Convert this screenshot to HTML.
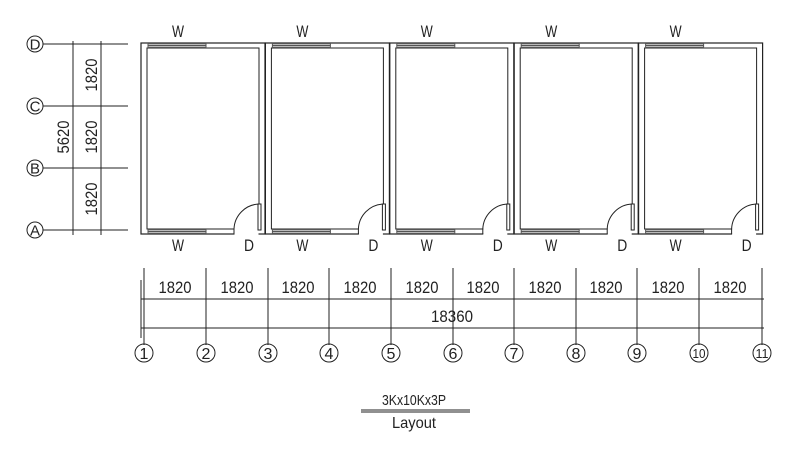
<!DOCTYPE html>
<html><head><style>body{margin:0;background:#fff}svg{display:block}text{font-family:"Liberation Sans",sans-serif;fill:#222}</style></head><body>
<svg width="800" height="458" viewBox="0 0 800 458" xmlns="http://www.w3.org/2000/svg" fill="none" stroke="#222" stroke-width="1">
<g id="units">
<g id="u">
<rect x="141" y="43" width="124" height="191" stroke-width="1.2"/>
<rect x="147" y="48" width="112" height="181"/>
<rect x="148" y="43.5" width="58" height="4" fill="#bbb" stroke="#555"/>
<line x1="148" y1="45.5" x2="206" y2="45.5" stroke="#555"/>
<rect x="148" y="229.5" width="58" height="4" fill="#bbb" stroke="#555"/>
<line x1="148" y1="231.5" x2="206" y2="231.5" stroke="#555"/>
<rect x="234.5" y="228" width="24" height="7" fill="#fff" stroke="none"/>
<line x1="234" y1="229" x2="234" y2="234"/>
<rect x="258" y="204" width="3" height="26" fill="#fff"/>
<path d="M234 229 A26 26 0 0 1 259 204"/>
<text x="178" y="37" font-size="17" text-anchor="middle" stroke="none" textLength="12" lengthAdjust="spacingAndGlyphs">W</text>
<text x="178" y="251" font-size="17" text-anchor="middle" stroke="none" textLength="12" lengthAdjust="spacingAndGlyphs">W</text>
<text x="249" y="251" font-size="17" text-anchor="middle" stroke="none" textLength="10" lengthAdjust="spacingAndGlyphs">D</text>
</g>
<use href="#u" x="124.4"/>
<use href="#u" x="248.8"/>
<use href="#u" x="373.2"/>
<use href="#u" x="497.6"/>
</g>
<g>
<line x1="73" y1="41" x2="73" y2="235"/>
<line x1="101" y1="41" x2="101" y2="235"/>
<line x1="43" y1="44" x2="128" y2="44"/>
<line x1="43" y1="106" x2="128" y2="106"/>
<line x1="43" y1="168" x2="128" y2="168"/>
<line x1="43" y1="230" x2="128" y2="230"/>
<circle cx="35" cy="44" r="8"/><circle cx="35" cy="106" r="8"/><circle cx="35" cy="168" r="8"/><circle cx="35" cy="230" r="8"/>
<g font-size="15" stroke="none" text-anchor="middle">
<text x="35" y="49.5" font-family="Liberation Serif">D</text>
<text x="35" y="111.5" font-family="Liberation Serif">C</text>
<text x="35" y="173.5" font-family="Liberation Serif">B</text>
<text x="35" y="235.5" font-family="Liberation Serif">A</text>
<text transform="translate(97,75) rotate(-90)" font-size="17" textLength="33" lengthAdjust="spacingAndGlyphs">1820</text>
<text transform="translate(97,137) rotate(-90)" font-size="17" textLength="33" lengthAdjust="spacingAndGlyphs">1820</text>
<text transform="translate(97,199) rotate(-90)" font-size="17" textLength="33" lengthAdjust="spacingAndGlyphs">1820</text>
<text transform="translate(69,137) rotate(-90)" font-size="17" textLength="33" lengthAdjust="spacingAndGlyphs">5620</text>
</g>
</g>
<g>
<line x1="141" y1="299" x2="764" y2="299"/>
<line x1="141" y1="328" x2="764" y2="328"/>
<line x1="141" y1="280" x2="141" y2="338"/>
<g id="gl"><line x1="144" y1="268" x2="144" y2="345"/></g>
<use href="#gl" x="62"/><use href="#gl" x="124"/><use href="#gl" x="185"/><use href="#gl" x="247"/><use href="#gl" x="309"/><use href="#gl" x="370"/><use href="#gl" x="432"/><use href="#gl" x="493"/><use href="#gl" x="555"/><use href="#gl" x="618"/>
<g stroke="none" font-size="17" text-anchor="middle" lengthAdjust="spacingAndGlyphs">
<text x="175" y="293" textLength="33" lengthAdjust="spacingAndGlyphs">1820</text><text x="237" y="293" textLength="33" lengthAdjust="spacingAndGlyphs">1820</text><text x="298" y="293" textLength="33" lengthAdjust="spacingAndGlyphs">1820</text><text x="360" y="293" textLength="33" lengthAdjust="spacingAndGlyphs">1820</text><text x="422" y="293" textLength="33" lengthAdjust="spacingAndGlyphs">1820</text><text x="483" y="293" textLength="33" lengthAdjust="spacingAndGlyphs">1820</text><text x="545" y="293" textLength="33" lengthAdjust="spacingAndGlyphs">1820</text><text x="606" y="293" textLength="33" lengthAdjust="spacingAndGlyphs">1820</text><text x="668" y="293" textLength="33" lengthAdjust="spacingAndGlyphs">1820</text><text x="730" y="293" textLength="33" lengthAdjust="spacingAndGlyphs">1820</text>
<text x="452" y="322" textLength="42" lengthAdjust="spacingAndGlyphs">18360</text>
</g>
<g>
<circle cx="144" cy="353" r="9"/><circle cx="206" cy="353" r="9"/><circle cx="268" cy="353" r="9"/><circle cx="329" cy="353" r="9"/><circle cx="391" cy="353" r="9"/><circle cx="453" cy="353" r="9"/><circle cx="514" cy="353" r="9"/><circle cx="576" cy="353" r="9"/><circle cx="637" cy="353" r="9"/><circle cx="699" cy="353" r="9"/><circle cx="762" cy="353" r="9"/>
</g>
<g stroke="none" font-size="16" text-anchor="middle">
<text x="144" y="359">1</text><text x="206" y="359">2</text><text x="268" y="359">3</text><text x="329" y="359">4</text><text x="391" y="359">5</text><text x="453" y="359">6</text><text x="514" y="359">7</text><text x="576" y="359">8</text><text x="637" y="359">9</text><text x="699" y="358" font-size="13" textLength="13" lengthAdjust="spacingAndGlyphs">10</text><text x="762" y="358" font-size="13" textLength="13" lengthAdjust="spacingAndGlyphs">11</text>
</g>
</g>
<text x="414" y="405" font-size="15" text-anchor="middle" stroke="none" textLength="64" lengthAdjust="spacingAndGlyphs">3Kx10Kx3P</text>
<line x1="361" y1="410" x2="470" y2="410"/>
<line x1="361" y1="412" x2="470" y2="412"/>
<text x="414" y="428" font-size="16" text-anchor="middle" stroke="none" textLength="44" lengthAdjust="spacingAndGlyphs">Layout</text>
</svg>
</body></html>
